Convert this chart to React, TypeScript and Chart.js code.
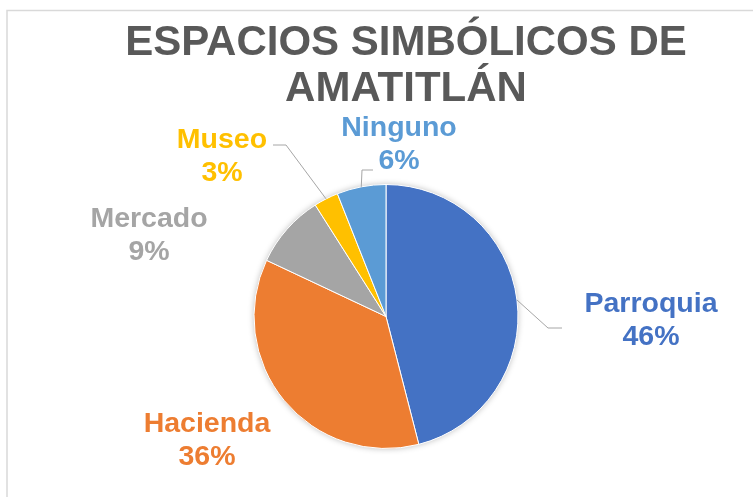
import { useEffect, useRef } from "react";
import { Chart, registerables } from "chart.js";

Chart.register(...registerables);

// ---- Data ----
const categories = ["Parroquia", "Hacienda", "Mercado", "Museo", "Ninguno"];
const percentages = [46, 36, 9, 3, 6];
const sliceColors = ["#4472C4", "#ED7D31", "#A5A5A5", "#FFC000", "#5B9BD5"];
const titleLines = ["ESPACIOS SIMBÓLICOS DE", "AMATITLÁN"];

// ---- Layout (positions only) ----
const FONT = "'Liberation Sans', Arial, Helvetica, sans-serif";
const LABEL_LAYOUT: { x: number; y: number; leader: number[][] | null }[] = [
  { x: 651, y: 312, leader: [[548, 328], [562, 328]] },
  { x: 207, y: 432, leader: null },
  { x: 149, y: 227, leader: null },
  { x: 222, y: 148, leader: [[286, 145], [273, 145]] },
  { x: 399, y: 136, leader: [[362, 170], [373, 170]] },
];
const LINE_H = 33;

const decorPlugin = {
  id: "decor",
  beforeDraw(chart: any) {
    const ctx = chart.ctx;
    ctx.save();
    ctx.fillStyle = "#ffffff";
    ctx.fillRect(0, 0, chart.width, chart.height);
    ctx.strokeStyle = "#D9D9D9";
    ctx.lineWidth = 1.5;
    ctx.beginPath();
    ctx.moveTo(7, chart.height + 5);
    ctx.lineTo(7, 10.5);
    ctx.lineTo(chart.width + 5, 10.5);
    ctx.stroke();
    ctx.restore();
  },
  beforeDatasetsDraw(chart: any) {
    const meta = chart.getDatasetMeta(0);
    const arc = meta.data[0];
    if (!arc) return;
    const ctx = chart.ctx;
    ctx.save();
    ctx.shadowColor = "rgba(0,0,0,0.28)";
    ctx.shadowBlur = 6;
    ctx.fillStyle = "#ffffff";
    ctx.beginPath();
    ctx.arc(arc.x, arc.y, arc.outerRadius, 0, Math.PI * 2);
    ctx.fill();
    ctx.restore();
  },
  afterDraw(chart: any) {
    const ctx = chart.ctx;
    ctx.save();
    // Title
    ctx.fillStyle = "#595959";
    ctx.font = `bold 42px ${FONT}`;
    ctx.textAlign = "center";
    ctx.textBaseline = "alphabetic";
    ctx.fillText(titleLines[0], 406, 55);
    ctx.fillText(titleLines[1], 406, 101);

    // Data labels
    const meta = chart.getDatasetMeta(0);
    const total = percentages.reduce((a, b) => a + b, 0);
    meta.data.forEach((arc: any, i: number) => {
      const lay = LABEL_LAYOUT[i];
      if (lay.leader) {
        const mid = (arc.startAngle + arc.endAngle) / 2;
        const sx = arc.x + Math.cos(mid) * arc.outerRadius;
        const sy = arc.y + Math.sin(mid) * arc.outerRadius;
        ctx.strokeStyle = "#A6A6A6";
        ctx.lineWidth = 1;
        ctx.beginPath();
        ctx.moveTo(sx, sy);
        lay.leader.forEach((p) => ctx.lineTo(p[0], p[1]));
        ctx.stroke();
      }
      ctx.fillStyle = sliceColors[i];
      ctx.font = `bold 28.5px ${FONT}`;
      ctx.textAlign = "center";
      ctx.fillText(categories[i], lay.x, lay.y);
      const pct = Math.round((percentages[i] / total) * 100) + "%";
      ctx.fillText(pct, lay.x, lay.y + LINE_H);
    });
    ctx.restore();
  },
};

export default function App() {
  const canvasRef = useRef<HTMLCanvasElement | null>(null);

  useEffect(() => {
    if (!canvasRef.current) return;
    const chart = new Chart(canvasRef.current, {
      type: "pie",
      data: {
        labels: categories,
        datasets: [
          {
            data: percentages,
            backgroundColor: sliceColors,
            borderColor: "#ffffff",
            borderWidth: 1,
            hoverOffset: 0,
          },
        ],
      },
      options: {
        responsive: false,
        animation: false,
        events: [],
        radius: 132,
        layout: { padding: { left: 254, right: 235, top: 184.5, bottom: 48.5 } },
        plugins: {
          legend: { display: false },
          title: { display: false },
          tooltip: { enabled: false },
        },
      } as any,
      plugins: [decorPlugin],
    });
    return () => chart.destroy();
  }, []);

  return (
    <div
      style={{
        position: "fixed",
        left: 0,
        top: 0,
        width: 753,
        height: 497,
        background: "#fff",
      }}
    >
      <canvas ref={canvasRef} width={753} height={497} style={{ display: "block" }} />
    </div>
  );
}
